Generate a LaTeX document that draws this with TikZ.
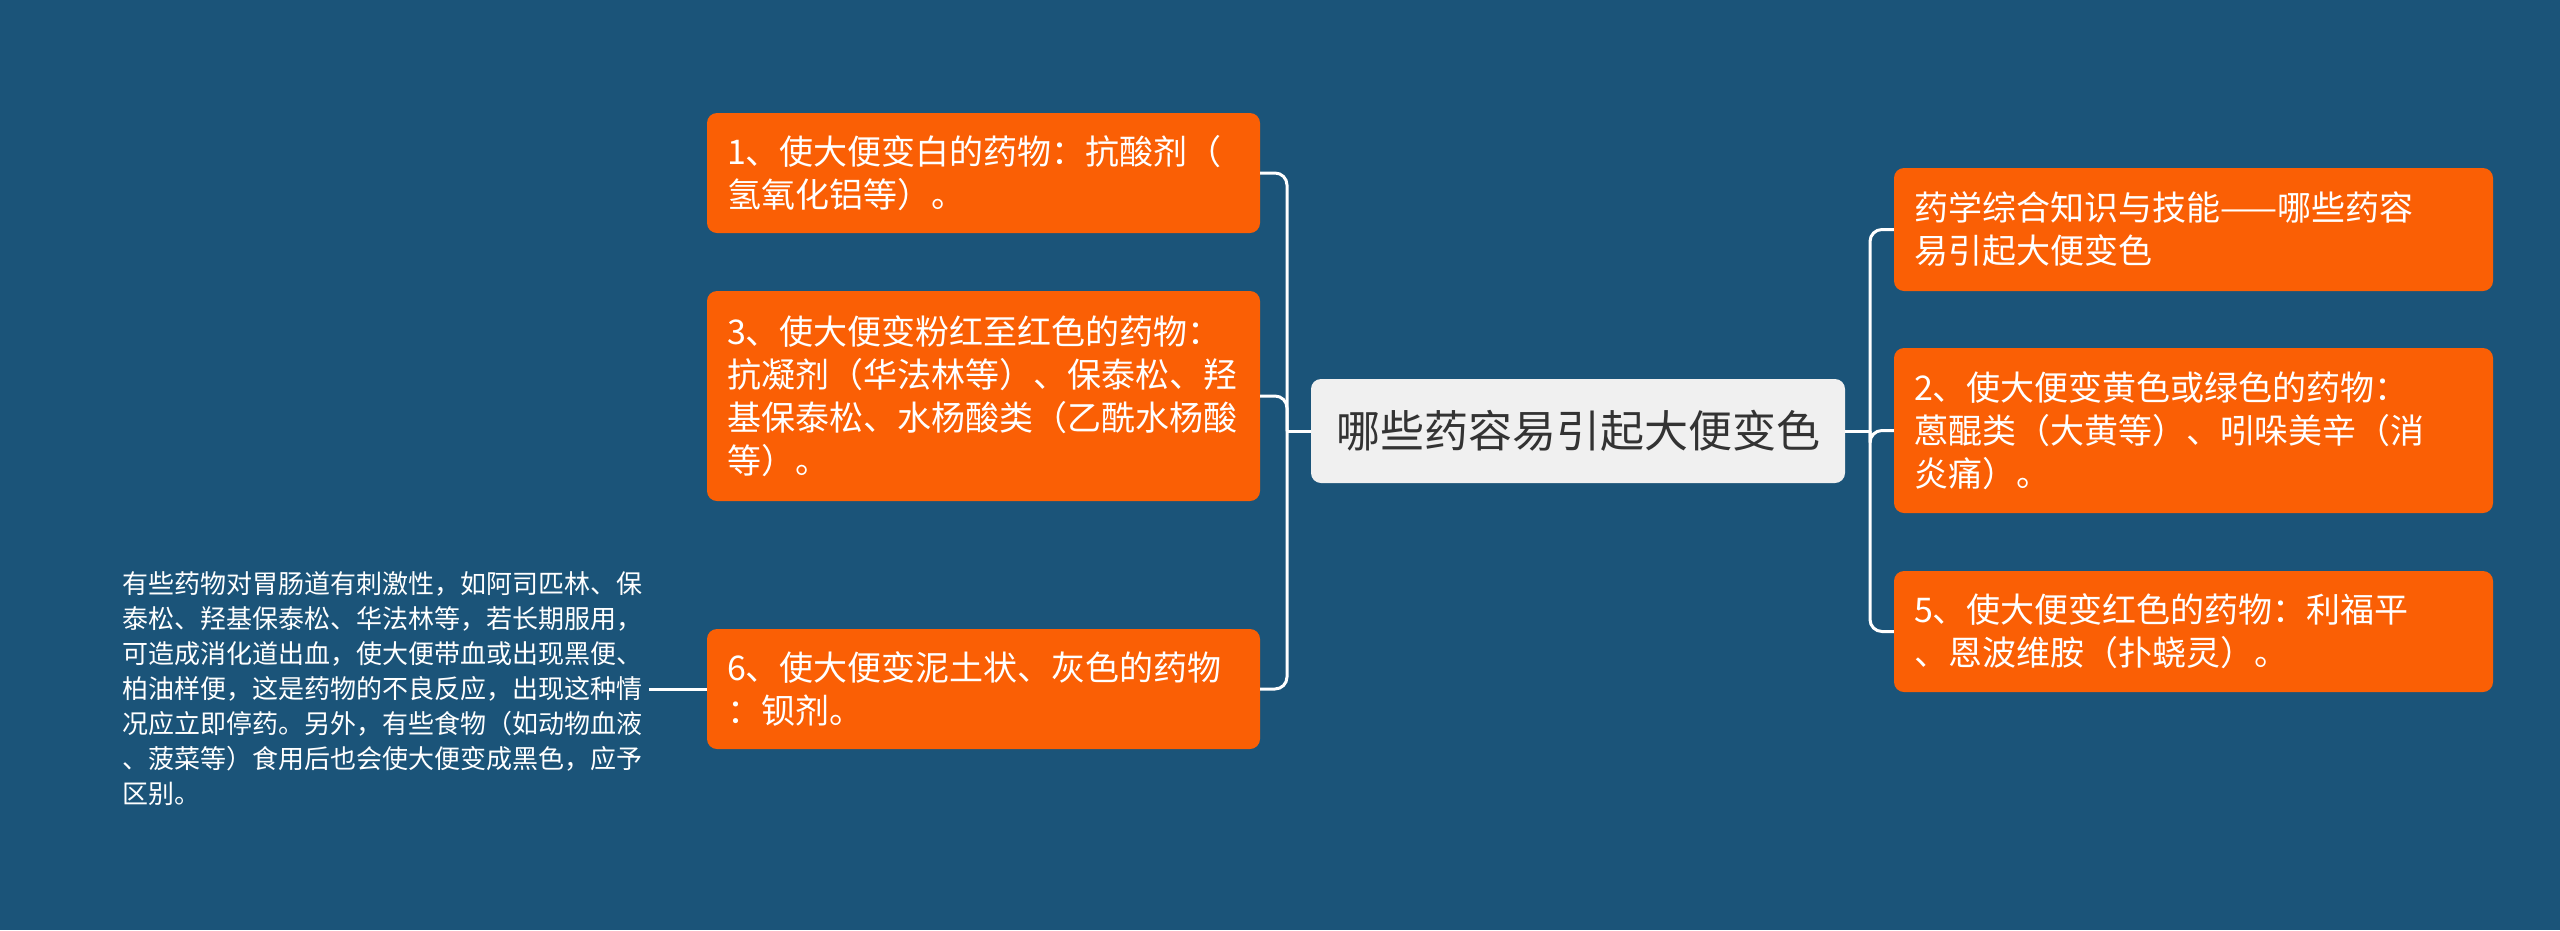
\documentclass[tikz,border=0pt]{standalone}
\usepackage{fontspec}
\setmainfont{Noto Sans CJK SC}
\definecolor{bg}{HTML}{1B5479}
\definecolor{org}{HTML}{FA5F05}
\definecolor{ctr}{HTML}{F0F0F0}
\definecolor{ctrtxt}{HTML}{333333}
\begin{document}
\begin{tikzpicture}[x=1pt,y=-1pt,
  leaf/.style={draw=none,fill=org,rounded corners=10pt,text=white,
    inner xsep=20pt,inner ysep=0pt,align=left,anchor=center,
    font=\fontsize{34}{43}\selectfont},
  leafL/.style={leaf,text width=513pt,minimum width=553pt},
  leafR/.style={leaf,text width=559pt,minimum width=599pt},
  rootbox/.style={fill=ctr,rounded corners=10pt,text=ctrtxt,
    minimum width=534pt,minimum height=104pt,inner sep=0pt,
    font=\fontsize{44}{52}\selectfont},
  note/.style={text=white,align=left,inner sep=0pt,outer sep=0pt,
    font=\fontsize{26}{35}\selectfont},
  conn/.style={draw=white,line width=3pt,rounded corners=12pt}]
\fill[bg] (0,0) rectangle (2560,930);
\useasboundingbox (0,0) rectangle (2560,930);

\node[rootbox] (c) at (1578,431) {哪些药容易引起大便变色};

\node[leafL,minimum height=120pt] (n1) at (983.5,173)
  {1、使大便变白的药物：抗酸剂（\\氢氧化铝等）。};
\node[leafL,minimum height=210pt] (n3) at (983.5,396)
  {3、使大便变粉红至红色的药物：\\抗凝剂（华法林等）、保泰松、羟\\基保泰松、水杨酸类（乙酰水杨酸\\等）。};
\node[leafL,minimum height=120pt] (n6) at (983.5,689)
  {6、使大便变泥土状、灰色的药物\\：钡剂。};

\node[leafR,minimum height=123pt] (r1) at (2193.5,229.5)
  {药学综合知识与技能——哪些药容\\易引起大便变色};
\node[leafR,minimum height=165pt] (r2) at (2193.5,430.5)
  {2、使大便变黄色或绿色的药物：\\蒽醌类（大黄等）、吲哚美辛（消\\炎痛）。};
\node[leafR,minimum height=121pt] (r5) at (2193.5,631.5)
  {5、使大便变红色的药物：利福平\\、恩波维胺（扑蛲灵）。};

\node[note,anchor=west] (lt) at (122,689)
  {有些药物对胃肠道有刺激性，如阿司匹林、保\\泰松、羟基保泰松、华法林等，若长期服用，\\可造成消化道出血，使大便带血或出现黑便、\\柏油样便，这是药物的不良反应，出现这种情\\况应立即停药。另外，有些食物（如动物血液\\、菠菜等）食用后也会使大便变成黑色，应予\\区别。};

\coordinate (jl) at (1287,431);
\coordinate (jr) at (1870,431);

\draw[conn] (c.west) -- (jl);
\draw[conn] (jl) |- (n1.east);
\draw[conn] (jl) |- (n3.east);
\draw[conn] (jl) |- (n6.east);

\draw[conn] (c.east) -- (jr);
\draw[conn] (jr) |- (r1.west);
\draw[conn] (jr) |- (r2.west);
\draw[conn] (jr) |- (r5.west);

\draw[conn] ([xshift=7pt]lt.east |- n6.west) -- (n6.west);
\end{tikzpicture}
\end{document}
